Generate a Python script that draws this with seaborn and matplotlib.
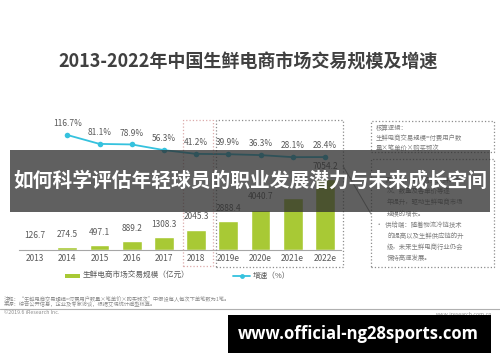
import numpy as np
import seaborn as sns
import matplotlib.pyplot as plt
from matplotlib.patches import Rectangle
from matplotlib.lines import Line2D

# 数据
years = ["2013", "2014", "2015", "2016", "2017", "2018", "2019e", "2020e", "2021e", "2022e"]
scale = [126.7, 274.5, 497.1, 889.2, 1308.3, 2045.3, 2888.4, 4040.7, 5176.2, 7054.2]
growth = [None, 116.7, 81.1, 78.9, 56.3, 41.2, 39.9, 36.3, 28.1, 28.4]

title = "2013-2022年中国生鲜电商市场交易规模及增速"
banner = "如何科学评估年轻球员的职业发展潜力与未来成长空间"
site = "www.official-ng28sports.com"

sns.set_style("white")
plt.rcParams['font.family'] = ['Noto Sans CJK SC', 'DejaVu Sans']

W, H = 500, 362
fig = plt.figure(figsize=(W / 100, H / 100), dpi=100)
fig.patch.set_facecolor("white")


def fx(x):
    return x / W


def fy(y):
    return 1 - y / H


# 主图区域 (像素: x 19..341, y 110..250)
ax = fig.add_axes([fx(19), fy(250), 322 / W, 140 / H])
sns.barplot(x=years, y=scale, color="#a8c935", width=0.62, saturation=1, ax=ax)
ax.set_xlim(-0.5, 9.5)
ax.set_ylim(0, 14000)
ax.set_xlabel("")
ax.set_ylabel("")
ax.set_yticks([])
ax.tick_params(axis="x", length=0, labelsize=6, labelcolor="#595959", pad=3)
for s in ["top", "right", "left"]:
    ax.spines[s].set_visible(False)
ax.spines["bottom"].set_color("#a6a6a6")
ax.spines["bottom"].set_linewidth(0.8)
for i, v in enumerate(scale):
    if years[i] == "2021e":
        continue  # 被横幅遮住
    ax.annotate(f"{v:.1f}", (i, v), xytext=(0, 6), textcoords="offset points",
                ha="center", va="bottom", fontsize=6, color="#595959")

# 增速折线
ax2 = ax.twinx()
gx = [i for i, g in enumerate(growth) if g is not None]
gy = [g for g in growth if g is not None]
sns.lineplot(x=gx, y=gy, ax=ax2, color="#35c2de", marker="o", markersize=4,
             markeredgewidth=0, linewidth=1.3)
ax2.set_ylim(-343.3, 216.7)
ax2.set_yticks([])
ax2.set_ylabel("")
for s in ax2.spines.values():
    s.set_visible(False)
for i, g in zip(gx, gy):
    ax2.annotate(f"{g}%", (i, g), xytext=(0, 5), textcoords="offset points",
                 ha="center", va="bottom", fontsize=6, color="#595959")

# 标题
fig.text(fx(248), fy(62), title, ha="center", va="center", fontsize=13,
         fontweight="bold", color="#404040")

# 虚线框
fig.patches.append(Rectangle((fx(183), fy(266)), 30 / W, 146 / H, transform=fig.transFigure,
                             fill=False, ec="#dcaaaa", ls=":", lw=0.9))
fig.patches.append(Rectangle((fx(216), fy(267)), 127 / W, 147 / H, transform=fig.transFigure,
                             fill=False, ec="#8c8c8c", ls=":", lw=0.9))
fig.patches.append(Rectangle((fx(371), fy(152)), 123 / W, 31 / H, transform=fig.transFigure,
                             fill=False, ec="#8c8c8c", ls=":", lw=0.9))
fig.patches.append(Rectangle((fx(371), fy(267)), 123 / W, 108 / H, transform=fig.transFigure,
                             fill=False, ec="#8c8c8c", ls=":", lw=0.9))
fig.lines.append(Line2D([fx(343), fx(371)], [fy(166), fy(214)], transform=fig.transFigure,
                        color="#8c8c8c", lw=0.7))

box_txt = dict(fontsize=4.6, color="#7f7f7f", ha="left", va="center")
fig.text(fx(376), fy(128), "核算逻辑：", **box_txt)
fig.text(fx(376), fy(138), "生鲜电商交易规模=付费用户数", **box_txt)
fig.text(fx(376), fy(148), "量×笔单价×购买频次", **box_txt)
right_lines = [
    ("•  需求端：用户购买生鲜的频", 376),
    ("次、数量及客单价等逐", 387),
    ("年提升，驱动生鲜电商市场", 387),
    ("规模的增长。", 387),
    ("•  供给端：随着物流冷链技术", 376),
    ("的提高以及生鲜供应链的升", 387),
    ("级，未来生鲜电商行业仍会", 387),
    ("保持高速发展。", 387),
]
for k, (t, x0) in enumerate(right_lines):
    fig.text(fx(x0), fy(180 + k * 11.2), t, **box_txt)

# 图例
fig.patches.append(Rectangle((fx(65), fy(278)), 15 / W, 4 / H, transform=fig.transFigure,
                             fc="#a8c935", ec="none"))
fig.text(fx(83), fy(276), "生鲜电商市场交易规模（亿元）", fontsize=5.5, color="#595959",
         ha="left", va="center")
fig.lines.append(Line2D([fx(233), fx(241.5), fx(250)], [fy(276)] * 3, transform=fig.transFigure,
                        color="#35c2de", lw=1.3, marker="o", markersize=3.5,
                        markevery=[1], markeredgewidth=0))
fig.text(fx(253), fy(276), "增速（%）", fontsize=5.5, color="#595959", ha="left", va="center")

# 注释
note = dict(fontsize=3.8, color="#8c8c8c", ha="left", va="center")
fig.text(fx(4), fy(298), "注释：“生鲜电商交易规模=付费用户数量×笔单价×购买频次”中假设每人每次下单笔数为1笔。", **note)
fig.text(fx(4), fy(304), "来源：综合公开信息，企业及专家访谈，根据艾瑞统计模型核算。", **note)
fig.text(fx(4), fy(313), "©2019.6 iResearch Inc.", **note)
fig.text(fx(492), fy(314), "www.iresearch.com.cn", fontsize=3.8, color="#8c8c8c",
         ha="right", va="center")
fig.lines.append(Line2D([0, 1], [fy(308.5), fy(308.5)], transform=fig.transFigure,
                        color="#b0b0b0", lw=0.8))

# 横幅
fig.patches.append(Rectangle((fx(10), fy(212)), 480 / W, 62 / H, transform=fig.transFigure,
                             fc="#2e2e2e", ec="none", alpha=0.76, zorder=5))
fig.text(fx(250), fy(181), banner, ha="center", va="center", fontsize=14.2,
         fontweight="bold", color="white", zorder=6)

# 网址框
fig.patches.append(Rectangle((fx(228), fy(353)), 263 / W, 38 / H, transform=fig.transFigure,
                             fc="black", ec="none", zorder=5))
fig.text(fx(358), fy(334), site, ha="center", va="center", fontsize=12,
         fontweight="bold", color="white", family=["Open Sans", "DejaVu Sans"], zorder=6)

fig.savefig("out.png", dpi=100)
